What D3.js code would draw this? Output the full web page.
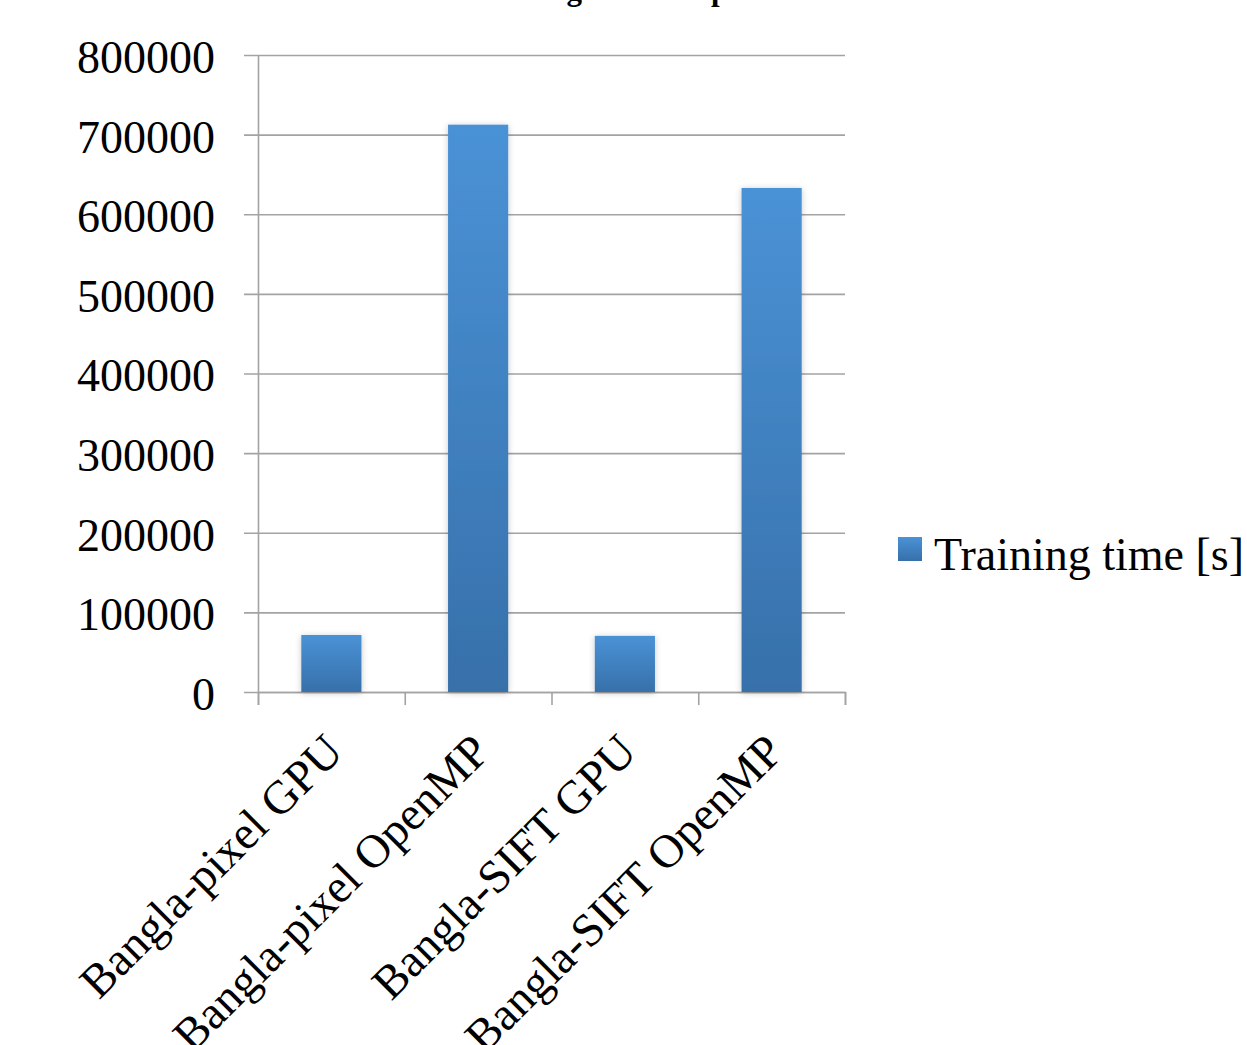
<!DOCTYPE html>
<html>
<head>
<meta charset="utf-8">
<script src="https://cdn.jsdelivr.net/npm/d3@7"></script>
<style>
  body { margin: 0; background: #fff; }
  svg text { font-family: "Liberation Serif", "Times New Roman", serif; fill: #000; }
</style>
</head>
<body>
<div id="display"></div>
<script>
const title_text = "Training time comparison";
const categories = ["Bangla-pixel GPU", "Bangla-pixel OpenMP", "Bangla-SIFT GPU", "Bangla-SIFT OpenMP"];
const training_time = [71600, 712500, 70500, 633000];
const y_ticks = [0, 100000, 200000, 300000, 400000, 500000, 600000, 700000, 800000];
const series_name = "Training time [s]";

function generate_bar_chart(width, height) {
    const svg = d3.create("svg")
        .attr("width", width)
        .attr("height", height);

    const left = 258, right = 845, top = 55, bottom = 692;

    const defs = svg.append("defs");
    const grad = defs.append("linearGradient")
        .attr("id", "barGrad").attr("x1", 0).attr("y1", 0).attr("x2", 0).attr("y2", 1);
    grad.append("stop").attr("offset", "0%").attr("stop-color", "#4a92d6");
    grad.append("stop").attr("offset", "100%").attr("stop-color", "#3770aa");

    const shadow = defs.append("filter").attr("id", "shadow")
        .attr("x", "-20%").attr("y", "-20%").attr("width", "140%").attr("height", "140%");
    shadow.append("feDropShadow").attr("dx", 0).attr("dy", 1).attr("stdDeviation", 3)
        .attr("flood-color", "#000").attr("flood-opacity", 0.22);

    // title - only its descenders reach into the picture
    svg.append("text")
        .attr("x", 639).attr("y", 0)
        .attr("text-anchor", "middle")
        .attr("font-size", 31).attr("font-weight", "bold")
        .text(title_text);

    const y_scale = d3.scaleLinear().domain([0, 800000]).range([bottom, top]);
    const x_scale = d3.scaleBand().domain(categories).range([left, right])
        .paddingInner(0.59).paddingOuter(0.295);
    const x_bounds = d3.scaleLinear().domain([0, categories.length]).range([left, right]);

    // gridlines with the outer tick marks
    const grid = svg.append("g")
        .attr("transform", `translate(${left - 14},0)`)
        .call(d3.axisRight(y_scale).tickValues(y_ticks).tickSize(right - left + 14).tickFormat(""));
    grid.select(".domain").remove();
    grid.selectAll("line").attr("stroke", "#a3a3a3").attr("stroke-width", 1.6);

    // y axis labels + line
    const gY = svg.append("g")
        .attr("transform", `translate(${left},0)`)
        .call(d3.axisLeft(y_scale).tickValues(y_ticks).tickSize(0).tickPadding(43).tickFormat(d => d));
    gY.select(".domain").attr("stroke", "#a3a3a3").attr("stroke-width", 1.6);
    gY.selectAll("text").attr("font-size", 46).attr("dy", "0.38em")
        .attr("font-family", "Liberation Serif, serif");

    // x axis tick marks at category boundaries
    const gX = svg.append("g")
        .attr("transform", `translate(0,${bottom})`)
        .call(d3.axisBottom(x_bounds).tickValues(d3.range(categories.length + 1)).tickSize(13).tickFormat(""));
    gX.select(".domain").attr("stroke", "#a3a3a3").attr("stroke-width", 1.6);
    gX.selectAll("line").attr("stroke", "#a3a3a3").attr("stroke-width", 1.6);

    // bars
    svg.append("g").selectAll("rect")
        .data(training_time)
        .join("rect")
        .attr("x", (d, i) => x_scale(categories[i]))
        .attr("y", d => y_scale(d))
        .attr("width", x_scale.bandwidth())
        .attr("height", d => bottom - y_scale(d))
        .attr("fill", "url(#barGrad)")
        .attr("filter", "url(#shadow)");

    // rotated category labels
    svg.append("g").selectAll("text")
        .data(categories)
        .join("text")
        .attr("font-size", 47)
        .attr("text-anchor", "end")
        .attr("transform", d => `translate(${x_scale(d) + x_scale.bandwidth() / 2 + 14},${bottom + 62}) rotate(-45)`)
        .text(d => d);

    // legend
    const legend = svg.append("g").attr("transform", "translate(898,537)");
    legend.append("rect").attr("width", 24).attr("height", 24).attr("fill", "url(#barGrad)");
    legend.append("text").attr("x", 36).attr("y", 33).attr("font-size", 46).text(series_name);

    return svg.node();
}

document.getElementById("display").appendChild(generate_bar_chart(1247, 1045));
</script>
</body>
</html>
